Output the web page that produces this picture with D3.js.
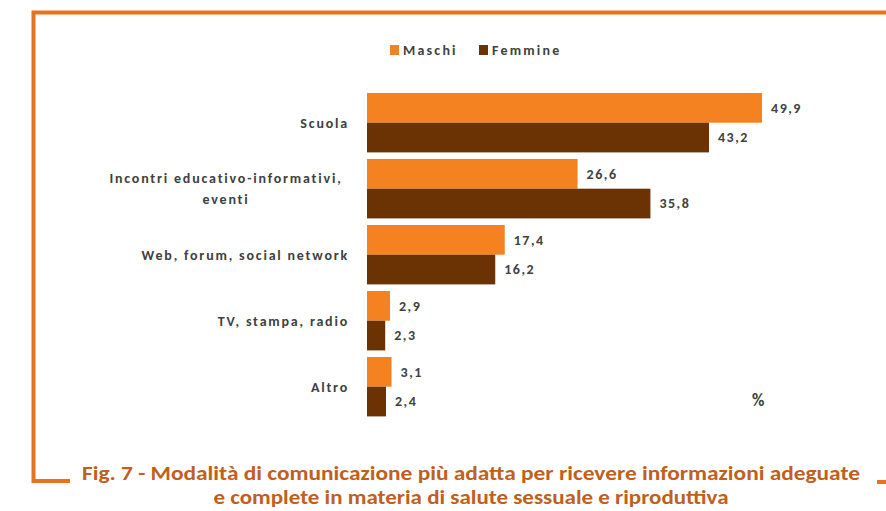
<!DOCTYPE html>
<html>
<head>
<meta charset="utf-8">
<script src="https://cdn.jsdelivr.net/npm/d3@7"></script>
<style>
  body { margin: 0; background: #fff; }
  text { font-family: Carlito, Lato, "Open Sans", sans-serif; font-weight: bold; }
</style>
</head>
<body>
<div id="chart"></div>
<script>
var svgWidth = 886;
var svgHeight = 511;

// data
var categories = [
  ["Scuola"],
  ["Incontri educativo-informativi,", "eventi"],
  ["Web, forum, social network"],
  ["TV, stampa, radio"],
  ["Altro"]
];
var seriesNames = ["Maschi", "Femmine"];
var maschi = [49.9, 26.6, 17.4, 2.9, 3.1];
var femmine = [43.2, 35.8, 16.2, 2.3, 2.4];
var seriesColors = ["#f58220", "#6b3304"];

var rows = categories.map(function(c, i) {
  return { label: c, key: c.join(" "), values: [maschi[i], femmine[i]] };
});

var svg = d3
  .select("#chart")
  .append("svg")
  .attr("width", svgWidth)
  .attr("height", svgHeight);

// orange frame (open at the bottom)
var frameColor = "#e8731e";
var frame = svg.append("g")
  .attr("stroke", frameColor)
  .attr("stroke-width", 4)
  .attr("fill", "none");
frame.append("path").attr("d", "M70,481 L33.5,481 L33.5,12.5 L886,12.5");
frame.append("line").attr("x1", 877).attr("x2", 886).attr("y1", 482).attr("y2", 482);

// scales
var xScale = d3.scaleLinear().domain([0, 60]).range([367, 842]);
var yScale = d3.scaleBand()
  .domain(rows.map(d => d.key))
  .range([89.7, 419.7])
  .paddingInner(0.1)
  .paddingOuter(0.05);
var subScale = d3.scaleBand()
  .domain(seriesNames)
  .range([0, yScale.bandwidth()]);

// bars
var groups = svg.append("g")
  .selectAll("g")
  .data(rows)
  .enter()
  .append("g")
  .attr("transform", d => `translate(0, ${yScale(d.key)})`);

groups.selectAll("rect")
  .data(d => d.values.map((v, i) => ({ name: seriesNames[i], value: v, idx: i })))
  .enter()
  .append("rect")
  .attr("x", xScale(0))
  .attr("y", d => subScale(d.name))
  .attr("width", d => xScale(d.value) - xScale(0))
  .attr("height", subScale.bandwidth())
  .attr("fill", d => seriesColors[d.idx]);

// value labels
groups.selectAll("text.val")
  .data(d => d.values.map((v, i) => ({ name: seriesNames[i], value: v })))
  .enter()
  .append("text")
  .attr("class", "val")
  .attr("x", d => xScale(d.value) + 9)
  .attr("y", d => subScale(d.name) + subScale.bandwidth() / 2)
  .attr("dy", "0.35em")
  .attr("font-size", 14)
  .attr("letter-spacing", 1.5)
  .attr("fill", "#404040")
  .text(d => d3.format(".1f")(d.value).replace(".", ","));

// category labels (wrapped lines centred on one another, right edge at the axis)
groups.each(function(d) {
  var g = d3.select(this);
  var n = d.label.length;
  var cy = yScale.bandwidth() / 2;
  var t = g.append("text")
    .attr("font-size", 14)
    .attr("letter-spacing", 1.8)
    .attr("fill", "#404040")
    .attr("text-anchor", n > 1 ? "middle" : "end");
  d.label.forEach(function(line, i) {
    t.append("tspan")
      .attr("x", n > 1 ? 226 : 349)
      .attr("y", cy + (i - (n - 1) / 2) * 21)
      .attr("dy", "0.35em")
      .text(line);
  });
});

// legend
var legend = svg.append("g").attr("transform", "translate(390, 50)");
var legendX = [0, 89];
seriesNames.forEach(function(name, i) {
  legend.append("rect")
    .attr("x", legendX[i])
    .attr("y", -5)
    .attr("width", 9)
    .attr("height", 10)
    .attr("fill", seriesColors[i]);
  legend.append("text")
    .attr("x", legendX[i] + 13)
    .attr("y", 0)
    .attr("dy", "0.35em")
    .attr("font-size", 14)
    .attr("letter-spacing", 2.2)
    .attr("fill", "#404040")
    .text(name);
});

// unit
svg.append("text")
  .attr("x", 752)
  .attr("y", 400)
  .attr("dy", "0.35em")
  .attr("font-size", 17)
  .attr("fill", "#404040")
  .text("%");

// caption
var captionLines = [
  "Fig. 7 - Modalità di comunicazione più adatta per ricevere informazioni adeguate",
  "e complete in materia di salute sessuale e riproduttiva"
];
var captionWidths = [778, 515];
captionLines.forEach(function(line, i) {
  svg.append("text")
    .attr("x", 471)
    .attr("y", 480 + i * 24)
    .attr("text-anchor", "middle")
    .attr("font-size", 20)
    .attr("fill", "#c0601c")
    .attr("textLength", captionWidths[i])
    .attr("lengthAdjust", "spacingAndGlyphs")
    .text(line);
});
</script>
</body>
</html>
